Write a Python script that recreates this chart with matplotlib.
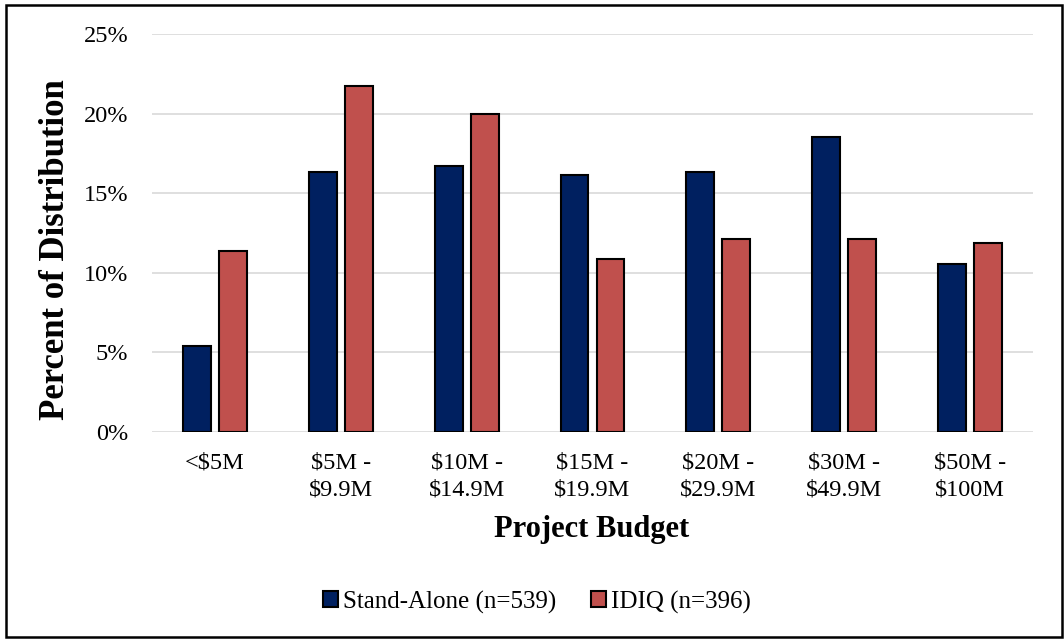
import matplotlib
matplotlib.use("Agg")
import matplotlib.pyplot as plt
from matplotlib.patches import Rectangle
import numpy as np

categories = ["<$5M", "$5M -\n$9.9M", "$10M -\n$14.9M", "$15M -\n$19.9M",
              "$20M -\n$29.9M", "$30M -\n$49.9M", "$50M -\n$100M"]
stand_alone = [5.38, 16.33, 16.70, 16.14, 16.33, 18.55, 10.58]
idiq = [11.36, 21.72, 19.95, 10.86, 12.12, 12.12, 11.87]
series_names = ["Stand-Alone (n=539)", "IDIQ (n=396)"]
y_ticks = [0, 5, 10, 15, 20, 25]

plt.rcParams["font.family"] = ["Liberation Serif", "DejaVu Serif"]

W, H = 1064, 639
fig = plt.figure(figsize=(W / 100, H / 100), dpi=100)
ax = fig.add_axes([152 / W, 1 - 432 / H, (1033 - 152) / W, (432 - 34) / H])

x = np.arange(len(categories))
w = 0.222
off = 0.143
ax.bar(x - off, stand_alone, w, color="#002060", edgecolor="black", linewidth=1.5,
       label=series_names[0], zorder=3)
ax.bar(x + off, idiq, w, color="#C0504D", edgecolor="black", linewidth=1.5,
       label=series_names[1], zorder=3)

ax.set_xlim(-0.5, len(categories) - 0.5)
ax.set_ylim(0, 25)
ax.set_yticks(y_ticks)
ax.set_yticklabels([f"{t}%" for t in y_ticks], fontsize=17.5)
ax.set_xticks(x)
ax.set_xticklabels(categories, fontsize=17.5, linespacing=1.33)
ax.tick_params(axis="both", length=0)
ax.tick_params(axis="y", pad=17)
ax.tick_params(axis="x", pad=15)
ax.grid(axis="y", color="#D9D9D9", linewidth=1.2, zorder=0)
for s in ax.spines.values():
    s.set_visible(False)

fig.text(592 / W, 1 - 530 / H, "Project Budget", fontsize=22, fontweight="bold",
         ha="center", va="center")
fig.text(56 / W, 1 - 250 / H, "Percent of Distribution", rotation=90,
         fontsize=25, fontweight="bold", ha="center", va="center")

ax.legend(loc="center", bbox_to_anchor=(537 / W, 1 - 602 / H), bbox_transform=fig.transFigure,
          ncol=2, frameon=False, fontsize=18, handlelength=0.6, handleheight=0.6,
          handletextpad=0.2, columnspacing=1.4, borderpad=0, borderaxespad=0)

fig.patches.append(Rectangle((6 / W, 2 / H), 1056 / W, 632 / H,
                             transform=fig.transFigure, fill=False,
                             edgecolor="black", linewidth=1.8))

fig.savefig("out.png", dpi=100)
